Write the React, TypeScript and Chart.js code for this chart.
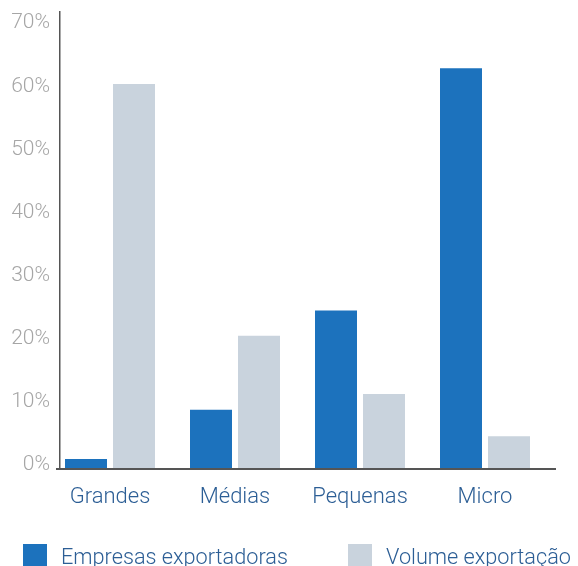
import React, { useEffect, useRef } from "react";
import { Chart, registerables } from "chart.js";

Chart.register(...registerables);

const categories = ["Grandes", "Médias", "Pequenas", "Micro"];
const empresasExportadoras = [1.6, 9.4, 25.1, 63.5];
const volumeExportacao = [61.0, 21.1, 11.9, 5.2];
const seriesNames = ["Empresas exportadoras", "Volume exportação"];
const yTicks = [0, 10, 20, 30, 40, 50, 60, 70];

const BLUE = "#1c72bd";
const GRAY = "#c9d3dd";
const TEXT_BLUE = "#2c5e95";
const FONT = "Roboto, 'Open Sans', 'DejaVu Sans', sans-serif";

const legendPlugin = {
  id: "manualLegend",
  afterDraw(chart: any) {
    const ctx = chart.ctx;
    const xs = [23, 348];
    const boxY = 544;
    ctx.save();
    ctx.font = `300 21.7px ${FONT}`;
    ctx.textBaseline = "alphabetic";
    ctx.textAlign = "left";
    chart.data.datasets.forEach((ds: any, i: number) => {
      ctx.fillStyle = ds.backgroundColor;
      ctx.fillRect(xs[i], boxY, 24, 24);
      ctx.fillStyle = TEXT_BLUE;
      ctx.fillText(ds.label, xs[i] + 38, 564);
    });
    ctx.restore();
  },
};

export default function App() {
  const ref = useRef<HTMLCanvasElement | null>(null);
  useEffect(() => {
    document.body.style.margin = "0";
    document.body.style.overflow = "hidden";
    if (!ref.current) return;
    const chart = new Chart(ref.current, {
      type: "bar",
      data: {
        datasets: [
          {
            label: seriesNames[0],
            data: empresasExportadoras.map((v, i) => ({ x: i, y: v })),
            backgroundColor: BLUE,
          },
          {
            label: seriesNames[1],
            data: volumeExportacao.map((v, i) => ({ x: i, y: v })),
            backgroundColor: GRAY,
          },
        ],
      },
      plugins: [legendPlugin],
      options: {
        animation: false,
        responsive: false,
        maintainAspectRatio: false,
        layout: { padding: { top: 12, right: 23, bottom: 57, left: 0 } },
        datasets: {
          bar: { categoryPercentage: 0.768, barPercentage: 0.875 },
        },
        plugins: {
          legend: { display: false },
          tooltip: { enabled: false },
        },
        scales: {
          x: {
            type: "linear",
            offset: false,
            min: -0.4,
            max: 3.56,
            afterBuildTicks: (scale: any) => {
              scale.ticks = categories.map((_, i) => ({ value: i }));
            },
            afterFit: (scale: any) => {
              scale.height = 40;
              scale.paddingLeft = 0;
              scale.paddingRight = 0;
            },
            grid: { display: false, drawTicks: false },
            border: { display: true, color: "#555", width: 2, z: 1 },
            ticks: {
              padding: 15,
              color: TEXT_BLUE,
              font: { family: FONT, size: 22, weight: 300 },
              callback: (v: any) => categories[v as number] ?? "",
              maxRotation: 0,
              autoSkip: false,
            },
          },
          y: {
            min: 0,
            max: 72.4,
            afterBuildTicks: (scale: any) => {
              scale.ticks = yTicks.map((v) => ({ value: v }));
            },
            afterFit: (scale: any) => {
              scale.width = 60;
              scale.paddingTop = 0;
              scale.paddingBottom = 0;
            },
            grid: {
              display: true,
              drawOnChartArea: false,
              drawTicks: true,
              tickLength: 4,
              color: (c: any) => (c.tick && c.tick.value === 0 ? "#555" : "rgba(0,0,0,0)"),
              lineWidth: 2,
            },
            border: { display: true, color: "#555", width: 1.5, z: 1 },
            ticks: {
              padding: 6,
              labelOffset: -4,
              color: "#a6a6a6",
              font: { family: FONT, size: 21, weight: 300 },
              callback: (v: any) => `${v}%`,
            },
          },
        },
      },
    });
    return () => chart.destroy();
  }, []);
  return (
    <div style={{ width: 578, height: 566 }}>
      <canvas ref={ref} width={578} height={566} style={{ width: 578, height: 566, display: "block" }} />
    </div>
  );
}
